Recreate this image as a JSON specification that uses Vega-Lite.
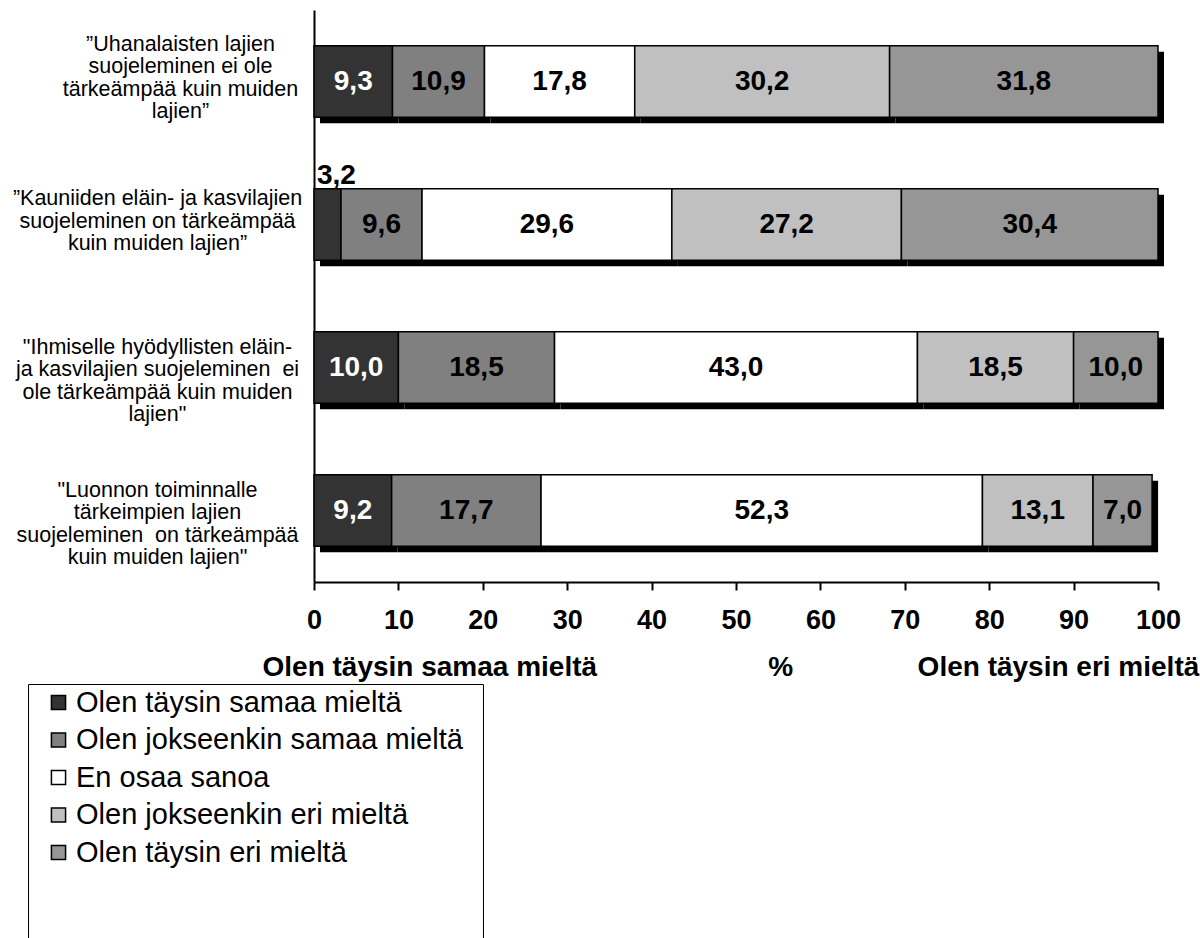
{
  "$schema": "https://vega.github.io/schema/vega-lite/v6.json",
  "width": 844,
  "height": 572,
  "autosize": {"type": "none"},
  "padding": {"left": 314, "top": 10, "right": 42, "bottom": 356},
  "background": "white",
  "config": {
    "view": {"stroke": null},
    "font": "Liberation Sans",
    "locale": {"number": {"decimal": ",", "thousands": "\u00a0", "grouping": [3], "currency": ["", "\u00a0€"]}}
  },
  "data": {
    "values": [
      {"q": "”Uhanalaisten lajien\nsuojeleminen ei ole\ntärkeämpää kuin muiden\nlajien”", "resp": "Olen täysin samaa mieltä", "o": 1, "v": 9.3},
      {"q": "”Uhanalaisten lajien\nsuojeleminen ei ole\ntärkeämpää kuin muiden\nlajien”", "resp": "Olen jokseenkin samaa mieltä", "o": 2, "v": 10.9},
      {"q": "”Uhanalaisten lajien\nsuojeleminen ei ole\ntärkeämpää kuin muiden\nlajien”", "resp": "En osaa sanoa", "o": 3, "v": 17.8},
      {"q": "”Uhanalaisten lajien\nsuojeleminen ei ole\ntärkeämpää kuin muiden\nlajien”", "resp": "Olen jokseenkin eri mieltä", "o": 4, "v": 30.2},
      {"q": "”Uhanalaisten lajien\nsuojeleminen ei ole\ntärkeämpää kuin muiden\nlajien”", "resp": "Olen täysin eri mieltä", "o": 5, "v": 31.8},
      {"q": "”Kauniiden eläin- ja kasvilajien\nsuojeleminen on tärkeämpää\nkuin muiden lajien”", "resp": "Olen täysin samaa mieltä", "o": 1, "v": 3.2},
      {"q": "”Kauniiden eläin- ja kasvilajien\nsuojeleminen on tärkeämpää\nkuin muiden lajien”", "resp": "Olen jokseenkin samaa mieltä", "o": 2, "v": 9.6},
      {"q": "”Kauniiden eläin- ja kasvilajien\nsuojeleminen on tärkeämpää\nkuin muiden lajien”", "resp": "En osaa sanoa", "o": 3, "v": 29.6},
      {"q": "”Kauniiden eläin- ja kasvilajien\nsuojeleminen on tärkeämpää\nkuin muiden lajien”", "resp": "Olen jokseenkin eri mieltä", "o": 4, "v": 27.2},
      {"q": "”Kauniiden eläin- ja kasvilajien\nsuojeleminen on tärkeämpää\nkuin muiden lajien”", "resp": "Olen täysin eri mieltä", "o": 5, "v": 30.4},
      {"q": "\"Ihmiselle hyödyllisten eläin-\nja kasvilajien suojeleminen \u00a0ei\nole tärkeämpää kuin muiden\nlajien\"", "resp": "Olen täysin samaa mieltä", "o": 1, "v": 10.0},
      {"q": "\"Ihmiselle hyödyllisten eläin-\nja kasvilajien suojeleminen \u00a0ei\nole tärkeämpää kuin muiden\nlajien\"", "resp": "Olen jokseenkin samaa mieltä", "o": 2, "v": 18.5},
      {"q": "\"Ihmiselle hyödyllisten eläin-\nja kasvilajien suojeleminen \u00a0ei\nole tärkeämpää kuin muiden\nlajien\"", "resp": "En osaa sanoa", "o": 3, "v": 43.0},
      {"q": "\"Ihmiselle hyödyllisten eläin-\nja kasvilajien suojeleminen \u00a0ei\nole tärkeämpää kuin muiden\nlajien\"", "resp": "Olen jokseenkin eri mieltä", "o": 4, "v": 18.5},
      {"q": "\"Ihmiselle hyödyllisten eläin-\nja kasvilajien suojeleminen \u00a0ei\nole tärkeämpää kuin muiden\nlajien\"", "resp": "Olen täysin eri mieltä", "o": 5, "v": 10.0},
      {"q": "\"Luonnon toiminnalle\ntärkeimpien lajien\nsuojeleminen \u00a0on tärkeämpää\nkuin muiden lajien\"", "resp": "Olen täysin samaa mieltä", "o": 1, "v": 9.2},
      {"q": "\"Luonnon toiminnalle\ntärkeimpien lajien\nsuojeleminen \u00a0on tärkeämpää\nkuin muiden lajien\"", "resp": "Olen jokseenkin samaa mieltä", "o": 2, "v": 17.7},
      {"q": "\"Luonnon toiminnalle\ntärkeimpien lajien\nsuojeleminen \u00a0on tärkeämpää\nkuin muiden lajien\"", "resp": "En osaa sanoa", "o": 3, "v": 52.3},
      {"q": "\"Luonnon toiminnalle\ntärkeimpien lajien\nsuojeleminen \u00a0on tärkeämpää\nkuin muiden lajien\"", "resp": "Olen jokseenkin eri mieltä", "o": 4, "v": 13.1},
      {"q": "\"Luonnon toiminnalle\ntärkeimpien lajien\nsuojeleminen \u00a0on tärkeämpää\nkuin muiden lajien\"", "resp": "Olen täysin eri mieltä", "o": 5, "v": 7.0}
    ]
  },
  "encoding": {
    "y": {
      "field": "q",
      "type": "nominal",
      "sort": [
        "”Uhanalaisten lajien\nsuojeleminen ei ole\ntärkeämpää kuin muiden\nlajien”",
        "”Kauniiden eläin- ja kasvilajien\nsuojeleminen on tärkeämpää\nkuin muiden lajien”",
        "\"Ihmiselle hyödyllisten eläin-\nja kasvilajien suojeleminen \u00a0ei\nole tärkeämpää kuin muiden\nlajien\"",
        "\"Luonnon toiminnalle\ntärkeimpien lajien\nsuojeleminen \u00a0on tärkeämpää\nkuin muiden lajien\""
      ],
      "scale": {"paddingInner": 0.5, "paddingOuter": 0.25},
      "axis": {
        "title": null,
        "labelExpr": "split(datum.label, '\\n')",
        "labelAlign": "center",
        "labelBaseline": "middle",
        "labelPadding": {"condition": {"test": "indexof(datum.value, 'Uhanalaisten') >= 0", "value": 134}, "value": 157},
        "labelOffset": {
          "condition": [
            {"test": "indexof(datum.value, 'Uhanalaisten') >= 0", "value": -37},
            {"test": "indexof(datum.value, 'Kauniiden') >= 0", "value": -25.5}
          ],
          "value": -20
        },
        "labelFontSize": 21.5,
        "labelLineHeight": 22.5,
        "labelFont": "Liberation Sans",
        "labelColor": "black",
        "labelLimit": 500,
        "ticks": false,
        "domainColor": "black",
        "domainWidth": 2
      }
    }
  },
  "layer": [
    {
      "mark": {"type": "bar", "color": "black", "xOffset": 6, "x2Offset": 6, "yOffset": 6},
      "encoding": {
        "x": {
          "field": "v",
          "type": "quantitative",
          "stack": "zero",
          "scale": {"domain": [0, 100], "nice": false},
          "axis": {
            "title": "Olen täysin samaa mieltä\u00a0\u00a0\u00a0\u00a0\u00a0\u00a0\u00a0\u00a0\u00a0\u00a0\u00a0\u00a0\u00a0\u00a0\u00a0\u00a0\u00a0\u00a0\u00a0\u00a0\u00a0\u00a0%\u00a0\u00a0\u00a0\u00a0\u00a0\u00a0\u00a0\u00a0\u00a0\u00a0\u00a0\u00a0\u00a0\u00a0\u00a0\u00a0Olen täysin eri mieltä",
            "titleFontSize": 28,
            "titleFontWeight": "bold",
            "titleFont": "Liberation Sans",
            "titleColor": "black",
            "titleAnchor": "start",
            "titleAlign": "left",
            "titleX": -52,
            "titleY": 85,
            "titleBaseline": "middle",
            "titleLimit": 2000,
            "values": [0, 10, 20, 30, 40, 50, 60, 70, 80, 90, 100],
            "labelFontSize": 27,
            "labelFontWeight": "bold",
            "labelFont": "Liberation Sans",
            "labelColor": "black",
            "labelPadding": 17,
            "labelFlush": false,
            "labelOverlap": false,
            "tickSize": 8,
            "tickColor": "black",
            "tickWidth": 2,
            "domainColor": "black",
            "domainWidth": 2,
            "grid": false
          }
        },
        "detail": {"field": "resp"},
        "order": {"field": "o"}
      }
    },
    {
      "mark": {"type": "bar", "stroke": "black", "strokeWidth": 1.5},
      "encoding": {
        "x": {"field": "v", "type": "quantitative", "stack": "zero"},
        "color": {
          "field": "resp",
          "type": "nominal",
          "scale": {
            "domain": ["Olen täysin samaa mieltä", "Olen jokseenkin samaa mieltä", "En osaa sanoa", "Olen jokseenkin eri mieltä", "Olen täysin eri mieltä"],
            "range": ["#333333", "#808080", "#ffffff", "#c0c0c0", "#969696"]
          },
          "legend": {
            "orient": "none",
            "legendX": -286,
            "legendY": 674,
            "title": "\u00a0",
            "titleOrient": "bottom",
            "titleAnchor": "start",
            "titleFontSize": 40,
            "titlePadding": 45,
            "strokeColor": "black",
            "padding": 4,
            "symbolType": "square",
            "symbolSize": 200,
            "symbolStrokeColor": "black",
            "symbolStrokeWidth": 1.5,
            "symbolOffset": 12,
            "labelExpr": "datum.label + '\u00a0\u00a0\u200b'",
            "labelFontSize": 29,
            "labelFont": "Liberation Sans",
            "labelColor": "black",
            "labelOffset": 3,
            "labelLimit": 700,
            "rowPadding": 7.5
          }
        },
        "order": {"field": "o"}
      }
    },
    {
      "transform": [
        {"stack": "v", "groupby": ["q"], "sort": [{"field": "o"}], "as": ["s0", "s1"]},
        {"fold": ["s0", "s1"], "as": ["k", "pos"]},
        {"aggregate": [{"op": "mean", "field": "pos", "as": "mid"}], "groupby": ["q", "resp", "o", "v"]},
        {"filter": "datum.v >= 5"}
      ],
      "mark": {"type": "text", "fontSize": 28, "fontWeight": "bold", "font": "Liberation Sans", "baseline": "middle", "align": "center"},
      "encoding": {
        "x": {"field": "mid", "type": "quantitative"},
        "text": {"field": "v", "type": "quantitative", "format": ".1f"},
        "color": {"condition": {"test": "datum.o === 1", "value": "white"}, "value": "black"}
      }
    },
    {
      "transform": [{"filter": "datum.v < 5"}],
      "mark": {"type": "text", "fontSize": 28, "fontWeight": "bold", "font": "Liberation Sans", "baseline": "alphabetic", "align": "left", "dx": 3, "dy": -41, "color": "black"},
      "encoding": {
        "x": {"datum": 0, "type": "quantitative"},
        "text": {"field": "v", "type": "quantitative", "format": ".1f"}
      }
    }
  ]
}
